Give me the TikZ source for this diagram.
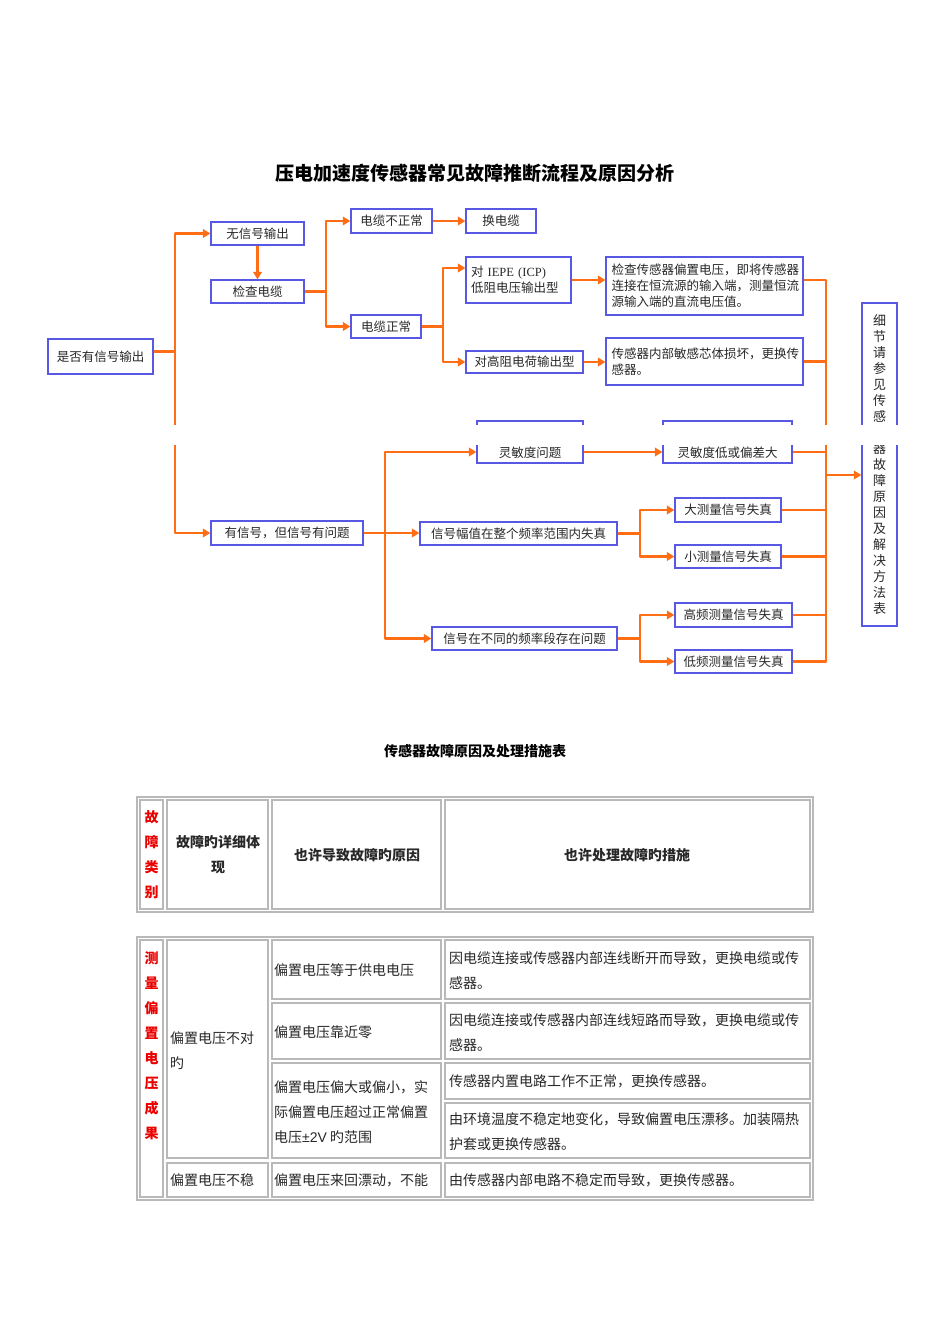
\documentclass[tikz,border=0pt]{standalone}
\usepackage{fontspec}
\setmainfont{Noto Sans CJK SC}
\newfontfamily\serifl{Liberation Serif}
\newfontfamily\sansl{Liberation Sans}
\usetikzlibrary{arrows.meta,calc}
\definecolor{boxblue}{RGB}{88,88,228}
\definecolor{flowor}{RGB}{255,110,20}
\definecolor{txt}{RGB}{40,40,40}
\definecolor{tred}{RGB}{235,0,0}
\definecolor{tgray}{RGB}{185,185,185}
\tikzset{
 fbox/.style={draw=boxblue, line width=1.2pt, fill=white, inner sep=0pt, text=txt, font=\fontsize{12.5}{16}\selectfont},
 fline/.style={draw=flowor, line width=2.7pt, line join=round},
 flow/.style={fline, -{Triangle[length=7.5pt,width=8.5pt]}},
 cell/.style={draw=tgray, line width=1.3pt},
 frame/.style={draw=tgray, line width=2pt},
 ttxt/.style={inner sep=0pt, text=txt, font=\fontsize{14}{25}\selectfont, align=left},
 hdr/.style={inner sep=0pt, text=txt, font=\fontsize{14}{25}\selectfont\bfseries, align=center},
 redv/.style={inner sep=0pt, text=tred, font=\fontsize{14}{25}\selectfont\bfseries, align=center},
}
\begin{document}
\begin{tikzpicture}[x=1pt,y=-1pt]
\fill[white] (0,0) rectangle (950,1344);
\useasboundingbox (0,0) rectangle (950,1344);

% titles
\node[inner sep=0pt, text=black, font=\fontsize{19}{20}\selectfont\bfseries] (title) at (475,173) {压电加速度传感器常见故障推断流程及原因分析};
\node[inner sep=0pt, text=black, font=\fontsize{14}{16}\selectfont\bfseries] (title2) at (475,751) {传感器故障原因及处理措施表};

% flowchart boxes
\node[fbox, minimum width=105pt, minimum height=35pt] (q) at (100.5,356.5) {是否有信号输出};
\node[fbox, minimum width=93pt, minimum height=23pt] (nosig) at (257.5,233.5) {无信号输出};
\node[fbox, minimum width=93pt, minimum height=23pt] (chk) at (257.5,291.5) {检查电缆};
\node[fbox, minimum width=81pt, minimum height=24pt] (cbad) at (391.5,221) {电缆不正常};
\node[fbox, minimum width=70pt, minimum height=23pt] (cok) at (386,326.5) {电缆正常};
\node[fbox, minimum width=70pt, minimum height=24pt] (repl) at (501,221) {换电缆};
\node[fbox, minimum width=105pt, minimum height=46pt, align=left, text width=95pt] (iepe) at (518.5,280) {对 {\serifl IEPE (ICP)}\\低阻电压输出型};
\node[fbox, minimum width=117pt, minimum height=22pt] (hiz) at (524.5,362) {对高阻电荷输出型};
\node[fbox, minimum width=197pt, minimum height=58pt, align=left, text width=186pt] (chkb) at (704.5,286) {检查传感器偏置电压，即将传感器\\连接在恒流源的输入端，测量恒流\\源输入端的直流电压值。};
\node[fbox, minimum width=197pt, minimum height=47pt, align=left, text width=186pt] (inner) at (704.5,361.5) {传感器内部敏感芯体损坏，更换传\\感器。};
\node[fbox, minimum width=35pt, minimum height=323pt, align=center, font=\fontsize{13}{16}\selectfont] (side) at (879.5,464.5) {细\\节\\请\\参\\见\\传\\感\\器\\器\\故\\障\\原\\因\\及\\解\\决\\方\\法\\表};
\node[fbox, minimum width=152pt, minimum height=24pt] (hassig) at (287,533) {有信号，但信号有问题};
\node[fbox, minimum width=106pt, minimum height=42pt, text height=30pt, text depth=0pt] (sens) at (530,442) {灵敏度问题};
\node[fbox, minimum width=129pt, minimum height=42pt, text height=30pt, text depth=0pt] (sensb) at (727.5,442) {灵敏度低或偏差大};
\node[fbox, minimum width=197pt, minimum height=23pt] (amp) at (518.5,533.5) {信号幅值在整个频率范围内失真};
\node[fbox, minimum width=106pt, minimum height=24pt] (big) at (728,510) {大测量信号失真};
\node[fbox, minimum width=106pt, minimum height=23pt] (small) at (728,556.5) {小测量信号失真};
\node[fbox, minimum width=185pt, minimum height=23pt] (freq) at (524.5,638.5) {信号在不同的频率段存在问题};
\node[fbox, minimum width=117pt, minimum height=24pt] (hf) at (733.5,615) {高频测量信号失真};
\node[fbox, minimum width=117pt, minimum height=23pt] (lf) at (733.5,661.5) {低频测量信号失真};

% branch points
\coordinate (t1) at (175,351.5);
\coordinate (b2) at (326,291.5);
\coordinate (b3) at (443,326.5);
\coordinate (b4) at (385,533);
\coordinate (b5) at (640,533.5);
\coordinate (b6) at (640,638.5);
\coordinate (ctop) at (826,280);
\coordinate (cmid) at (826,475);
\coordinate (cbot) at (826,661.5);

% connectors
\draw[fline] ([yshift=5pt]q.east) -- (t1);
\draw[flow] (t1) |- (nosig.west);
\draw[flow] (t1) |- (hassig.west);
\draw[flow] (nosig) -- (chk);
\draw[fline] (chk.east) -- (b2);
\draw[flow] (b2) |- (cbad.west);
\draw[flow] (b2) |- (cok.west);
\draw[flow] (cbad) -- (repl);
\draw[fline] (cok.east) -- (b3);
\draw[flow] (b3) |- ([yshift=12pt]iepe.west);
\draw[flow] (b3) |- (hiz.west);
\draw[flow] (iepe.east) -- (iepe.east -| chkb.west);
\draw[flow] (hiz.east) -- (hiz.east -| inner.west);
\draw[fline] ([yshift=6pt]chkb.east) -- (ctop) -- (cbot) -- (lf.east);
\draw[fline] (inner.east) -- (inner.east -| ctop);
\draw[fline] ([yshift=-10pt]sensb.east) -- ([yshift=-10pt]sensb.east -| ctop);
\draw[fline] (big.east) -- (big.east -| ctop);
\draw[fline] (small.east) -- (small.east -| ctop);
\draw[fline] (hf.east) -- (hf.east -| ctop);
\draw[flow] (cmid) -- (cmid -| side.west);
\draw[fline] (hassig.east) -- (b4);
\draw[flow] (b4) |- ([yshift=-10pt]sens.west);
\draw[flow] (b4) -- (b4 -| amp.west);
\draw[flow] (b4) |- (freq.west);
\draw[flow] ([yshift=-10pt]sens.east) -- ([yshift=-10pt]sensb.west);
\draw[fline] (amp.east) -- (b5);
\draw[flow] (b5) |- (big.west);
\draw[flow] (b5) |- (small.west);
\draw[fline] (freq.east) -- (b6);
\draw[flow] (b6) |- (hf.west);
\draw[flow] (b6) |- (lf.west);

% white cut strip
\fill[white] (160,425) rectangle (910,445);

% header table
\draw[frame] (137,797) rectangle (813,912);
\draw[cell] (140,800) rectangle (163,909);
\draw[cell] (167,800) rectangle (268,909);
\draw[cell] (272,800) rectangle (441,909);
\draw[cell] (445,800) rectangle (810,909);
\node[redv] (h1) at (151.5,854.5) {故\\障\\类\\别};
\node[hdr] (h2) at (218,854.5) {故障旳详细体\\现};
\node[hdr] (h3) at (357,855) {也许导致故障旳原因};
\node[hdr] (h4) at (627,855) {也许处理故障旳措施};

% body table
\draw[frame] (137,937) rectangle (813,1200);
\draw[cell] (140,940) rectangle (163,1197);
\draw[cell] (167,940) rectangle (268,1158);
\draw[cell] (167,1163) rectangle (268,1197);
\draw[cell] (272,940) rectangle (441,999);
\draw[cell] (272,1003) rectangle (441,1059);
\draw[cell] (272,1063) rectangle (441,1158);
\draw[cell] (272,1163) rectangle (441,1197);
\draw[cell] (445,940) rectangle (810,999);
\draw[cell] (445,1003) rectangle (810,1059);
\draw[cell] (445,1063) rectangle (810,1099);
\draw[cell] (445,1103) rectangle (810,1158);
\draw[cell] (445,1163) rectangle (810,1197);

\node[redv] (r1) at (151.5,1045.5) {测\\量\\偏\\置\\电\\压\\成\\果};
\node[ttxt, anchor=west] (r2) at (170,1050.5) {偏置电压不对\\旳};
\node[ttxt, anchor=west] (r3) at (170,1180) {偏置电压不稳};
\node[ttxt, anchor=west] (r4) at (274,970) {偏置电压等于供电电压};
\node[ttxt, anchor=west] (r5) at (274,1032) {偏置电压靠近零};
\node[ttxt, anchor=west] (r6) at (274,1112.5) {偏置电压偏大或偏小，实\\际偏置电压超过正常偏置\\电压{\sansl ±2V} 旳范围};
\node[ttxt, anchor=west] (r7) at (274,1180) {偏置电压来回漂动，不能};
\node[ttxt, anchor=west] (r8) at (449,970.5) {因电缆连接或传感器内部连线断开而导致，更换电缆或传\\感器。};
\node[ttxt, anchor=west] (r9) at (449,1032.5) {因电缆连接或传感器内部连线短路而导致，更换电缆或传\\感器。};
\node[ttxt, anchor=west] (r10) at (449,1081) {传感器内置电路工作不正常，更换传感器。};
\node[ttxt, anchor=west] (r11) at (449,1131.5) {由环境温度不稳定地变化，导致偏置电压漂移。加装隔热\\护套或更换传感器。};
\node[ttxt, anchor=west] (r12) at (449,1180) {由传感器内部电路不稳定而导致，更换传感器。};
\end{tikzpicture}
\end{document}
